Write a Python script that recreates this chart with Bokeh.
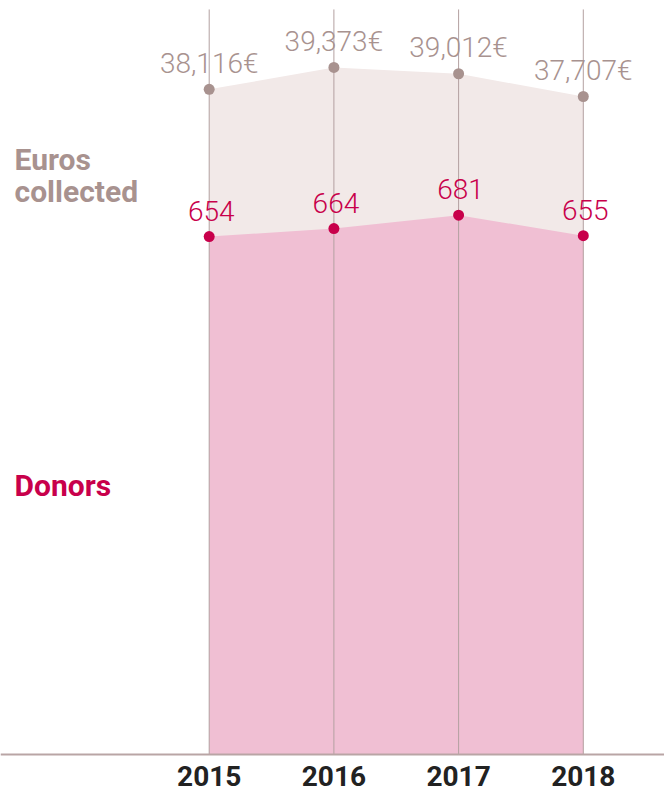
from bokeh.plotting import figure
from bokeh.models import Range1d, Span
from bokeh.core.properties import value
from bokeh.embed import file_html
from bokeh.resources import INLINE

years = [2015, 2016, 2017, 2018]
year_labels = ["2015", "2016", "2017", "2018"]
donors = [654, 664, 681, 655]
euros = [38116, 39373, 39012, 37707]
euro_labels = ["38,116€", "39,373€", "39,012€", "37,707€"]
donor_labels = ["654", "664", "681", "655"]

DONOR_COLOR = "#c8004b"
EURO_COLOR = "#a8928f"
DONOR_FILL = "#f0bfd3"
EURO_FILL = "#f2e9e8"
GRID_COLOR = "#b3a0a0"

W, H = 664, 793
X0, X1 = 2013.3264, 2018.6512
D0, D1 = -49.24, 952.0
E0, E1 = -2235.0, 43209.0
GRID_TOP = 940.7

p = figure(width=W, height=H, output_backend="svg", toolbar_location=None,
           x_range=Range1d(X0, X1), y_range=Range1d(D0, D1),
           min_border=0, outline_line_color=None)
p.extra_y_ranges = {"euros": Range1d(E0, E1)}
p.axis.visible = False
p.xgrid.visible = False
p.ygrid.visible = False
p.background_fill_color = "white"

# areas
p.varea(x=years, y1=0, y2=euros, y_range_name="euros", fill_color=EURO_FILL)
p.varea(x=years, y1=0, y2=donors, fill_color=DONOR_FILL)

# vertical guide lines
p.segment(x0=years, x1=years, y0=[0] * len(years), y1=[GRID_TOP] * len(years),
          line_color=GRID_COLOR, line_width=1)

# baseline
p.add_layout(Span(location=0, dimension="width", line_color="#b9a5a5", line_width=2))

# points
p.scatter(x=years, y=euros, y_range_name="euros", size=11,
          fill_color=EURO_COLOR, line_color=None)
p.scatter(x=years, y=donors, size=11, fill_color=DONOR_COLOR, line_color=None)

# value labels
p.text(x=years, y=euros, text=euro_labels, y_range_name="euros",
       text_align="center", text_baseline="alphabetic", x_offset=0, y_offset=-26,
       text_font=value("Roboto Light"), text_font_size="28px", text_color=EURO_COLOR)
p.text(x=years, y=donors, text=donor_labels,
       text_align="center", text_baseline="alphabetic", x_offset=2, y_offset=-26,
       text_font=value("Roboto Light"), text_font_size="28px", text_color=DONOR_COLOR)

# year labels
p.text(x=years, y=[0] * len(years), text=year_labels,
       text_align="center", text_baseline="top", y_offset=11,
       text_font=value("Roboto"), text_font_style="bold", text_font_size="28px",
       text_color="#222222")

# series names
LX = 2013.4387
p.text(x=[LX, LX], y=[734.8, 694.4], text=["Euros", "collected"],
       text_align="left", text_baseline="alphabetic", y_offset=-13,
       text_font=value("Roboto"), text_font_style="bold", text_font_size="30px",
       text_color=EURO_COLOR)
p.text(x=[LX], y=[323.2], text=["Donors"],
       text_align="left", text_baseline="alphabetic", y_offset=-13,
       text_font=value("Roboto"), text_font_style="bold", text_font_size="30px",
       text_color=DONOR_COLOR)

open("out.html", "w").write(file_html(p, INLINE))
